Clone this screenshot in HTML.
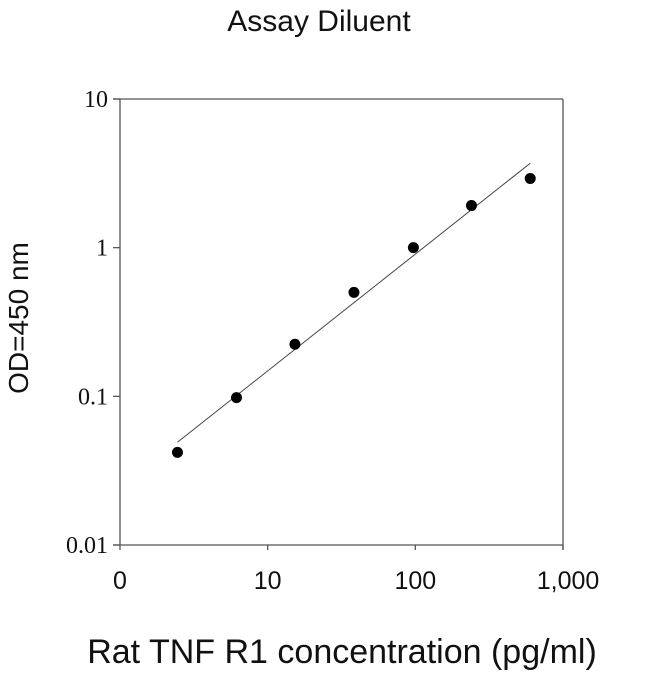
<!DOCTYPE html>
<html><head><meta charset="utf-8"><style>
body{margin:0;background:#fff;}
svg text{fill:#111;}
</style></head><body>
<svg id="chart" width="650" height="674" xmlns="http://www.w3.org/2000/svg">
<text x="319" y="31" text-anchor="middle" font-family="Liberation Sans, sans-serif" font-size="30">Assay Diluent</text>
<text transform="translate(28,318) rotate(-90)" text-anchor="middle" font-family="Liberation Sans, sans-serif" font-size="28">OD=450 nm</text>
<text x="342" y="663" text-anchor="middle" font-family="Liberation Sans, sans-serif" font-size="34">Rat TNF R1 concentration (pg/ml)</text>
<g id="axes"></g><g id="marks"></g>
</svg>
<script>
const xValues=[2.45,6.15,15.3,38.4,97,240,600];
const yValues=[0.042,0.098,0.224,0.50,1.0,1.92,2.92];
const xTicks=[1,10,100,1000];
const xTickLabels=["0","10","100","1,000"];
const yTicks=[0.01,0.1,1,10];
const yTickLabels=["0.01","0.1","1","10"];
const NS="http://www.w3.org/2000/svg";
const X0=120,X1=563,Y0=545,Y1=99;
function sx(v){return X0+(Math.log10(v)-0)/3*(X1-X0);}
function sy(v){return Y0-(Math.log10(v)+2)/3*(Y0-Y1);}
function mk(t,a,p){const e=document.createElementNS(NS,t);for(const k in a)e.setAttribute(k,a[k]);p.appendChild(e);return e;}
const ax=document.getElementById('axes'),mg=document.getElementById('marks');
let l;
l=mk('line',{x1:113,y1:Y1,x2:X1,y2:Y1,stroke:'#555','stroke-width':1.3},ax);


l=mk('line',{x1:X1,y1:Y1,x2:X1,y2:Y0+5,stroke:'#555','stroke-width':1.3},ax);


l=mk('line',{x1:X0,y1:Y1,x2:X0,y2:Y0,stroke:'#555','stroke-width':1.3},ax);


l=mk('line',{x1:113,y1:Y0,x2:X1,y2:Y0,stroke:'#555','stroke-width':1.3},ax);


yTicks.forEach((v,i)=>{const y=sy(v);
 const t=mk('line',{x1:113,y1:y,x2:X0,y2:y,stroke:'#555','stroke-width':1.3},ax);
 
 
 const tx=mk('text',{x:108,y:y+8,'text-anchor':'end','font-family':'Liberation Serif, serif','font-size':24},ax);
 tx.textContent=yTickLabels[i];
 
 
});
xTicks.forEach((v,i)=>{const x=sx(v);
 const t=mk('line',{x1:x,y1:Y0,x2:x,y2:Y0+5,stroke:'#555','stroke-width':1.3},ax);
 
 
 const tx=mk('text',{x:x+(i==3?5:0),y:589,'text-anchor':'middle','font-family':'Liberation Sans, sans-serif','font-size':25},ax);
 tx.textContent=xTickLabels[i];
 
 
});
const lx=xValues.map(Math.log10),ly=yValues.map(Math.log10),n=lx.length;
const mx=lx.reduce((a,b)=>a+b)/n,my=ly.reduce((a,b)=>a+b)/n;
let sxy=0,sxx=0;for(let i=0;i<n;i++){sxy+=(lx[i]-mx)*(ly[i]-my);sxx+=(lx[i]-mx)**2;}
const b=sxy/sxx,a=my-b*mx;
const xa=xValues[0],xb=xValues[n-1];
l=mk('line',{x1:sx(xa),y1:sy(10**(a+b*Math.log10(xa))),x2:sx(xb),y2:sy(10**(a+b*Math.log10(xb))),stroke:'#444','stroke-width':1},mg);


xValues.forEach((v,i)=>{
 const c=mk('circle',{cx:sx(v),cy:sy(yValues[i]),r:5.5,fill:'#000'},mg);
 
 
});
</script>
</body></html>
